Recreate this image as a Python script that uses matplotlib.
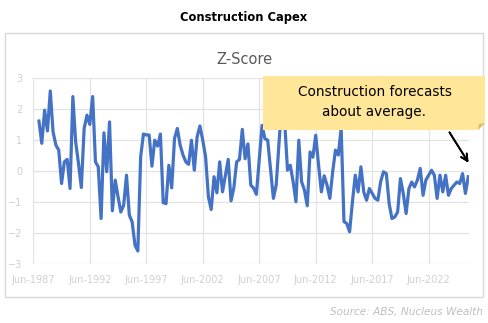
import pandas as pd
import matplotlib.pyplot as plt
from matplotlib.patches import Rectangle, Polygon

# Quarterly Z-score of construction capex, Dec-1987 .. Dec-2025
start_date = '1987-12-01'
zscore = [
    1.62, 0.90, 1.97, 1.30, 2.59, 1.27, 0.84, 0.68, -0.40, 0.30,
    0.38, -0.56, 2.41, 0.95, 0.25, -0.53, 1.38, 1.81, 1.51, 2.41,
    0.30, 0.14, -1.53, 1.24, -0.02, 1.59, -1.28, -0.29, -0.83, -1.32,
    -1.10, -0.13, -1.42, -1.64, -2.39, -2.58, 0.46, 1.20, 1.17, 1.17,
    0.16, 1.00, 0.81, 1.20, -1.02, -1.05, 0.19, -0.54, 1.06, 1.38,
    0.84, 0.52, 0.30, 0.22, 1.00, 0.03, 1.11, 1.46, 1.00, 0.46,
    -0.83, -1.24, -0.18, -0.70, 0.30, -0.67, -0.15, 0.38, -0.96, -0.55,
    0.30, 0.38, 1.35, 0.40, 0.88, -0.45, -0.55, -0.75, 0.35, 1.48,
    1.05, 1.00, 0.05, -0.88, -0.45, 0.90, 2.20, 1.60, 0.03, 0.19,
    -0.34, -0.99, 1.00, -0.34, -0.61, -1.12, 0.62, 0.45, 1.16, 0.19,
    -0.67, -0.15, -0.45, -0.88, -0.02, 0.68, 0.52, 1.38, -1.63, -1.69,
    -1.96, -0.99, -0.13, -0.67, 0.14, -0.67, -0.94, -0.56, -0.72, -0.88,
    -0.94, -0.34, -0.02, -0.08, -1.05, -1.53, -1.48, -1.32, -0.24, -0.72,
    -1.37, -0.56, -0.35, -0.51, -0.29, 0.09, -0.78, -0.29, -0.13, 0.03,
    -0.13, -0.88, -0.13, -0.67, -0.13, -0.78, -0.56, -0.45, -0.35, -0.40,
    -0.08, -0.72, -0.18,
]
tick_dates = ['1987-06-01', '1992-06-01', '1997-06-01', '2002-06-01',
              '2007-06-01', '2012-06-01', '2017-06-01', '2022-06-01']
tick_labels = ['Jun-1987', 'Jun-1992', 'Jun-1997', 'Jun-2002',
               'Jun-2007', 'Jun-2012', 'Jun-2017', 'Jun-2022']
y_ticks = [-3, -2, -1, 0, 1, 2, 3]

dates = pd.date_range(start_date, periods=len(zscore), freq='3MS')
ticks = pd.to_datetime(tick_dates)

W, H = 488, 323
fig = plt.figure(figsize=(W / 100, H / 100), dpi=100)

def fx(px):
    return px / W

def fy(py):
    return 1 - py / H

# outer chart frame
fig.patches.append(Rectangle((fx(5), fy(297)), fx(478), (297 - 33) / H,
                             transform=fig.transFigure, fill=False,
                             edgecolor='#d9d9d9', lw=1))

fig.text(0.5, fy(18), 'Construction Capex', ha='center', va='center',
         fontsize=8.3, fontweight='bold', color='black')

ax = fig.add_axes([fx(33.3), fy(264), fx(468.7 - 33.3), (264 - 78.3) / H])
ax.plot(dates, zscore, color='#4472c4', lw=2.3, solid_joinstyle='round')

ax.set_ylim(-3, 3)
ax.set_yticks(y_ticks)
ax.set_xlim(ticks[0], dates[-1] + pd.Timedelta(days=15))
ax.set_xticks(ticks)
ax.set_xticklabels(tick_labels)
ax.grid(True, color='#e3e3e3', lw=0.9)
ax.set_axisbelow(True)
for s in ax.spines.values():
    s.set_visible(False)
ax.tick_params(length=0, colors='#d0d0d0', labelsize=7)
ax.tick_params(axis='y', pad=8)
ax.tick_params(axis='x', pad=8)

fig.text(0.5, fy(60), 'Z-Score', ha='center', va='center',
         fontsize=10.5, color='#595959')

# note box with folded corner
box = Polygon([(fx(263), fy(76)), (fx(485), fy(76)), (fx(485), fy(123)),
               (fx(478), fy(130)), (fx(263), fy(130))],
              closed=True, transform=fig.transFigure,
              facecolor='#ffe699', edgecolor='none')
fig.patches.append(box)
fold = Polygon([(fx(485), fy(123)), (fx(478), fy(130)), (fx(479), fy(124))],
               closed=True, transform=fig.transFigure,
               facecolor='#d9bd6a', edgecolor='none')
fig.patches.append(fold)
fig.text(fx(375), fy(92), 'Construction forecasts', ha='center', va='center',
         fontsize=9.8, color='black')
fig.text(fx(374), fy(112), 'about average.', ha='center', va='center',
         fontsize=9.8, color='black')

fig.add_artist(plt.annotate('', xy=(fx(470), fy(165)), xytext=(fx(448), fy(130)),
                            xycoords='figure fraction', textcoords='figure fraction',
                            arrowprops=dict(arrowstyle='->', color='black', lw=1.3,
                                            mutation_scale=12)))

fig.text(fx(483), fy(312), 'Source: ABS, Nucleus Wealth', ha='right', va='center',
         fontsize=7.6, style='italic', color='#bfbfbf')

fig.savefig('out.png', dpi=100)
